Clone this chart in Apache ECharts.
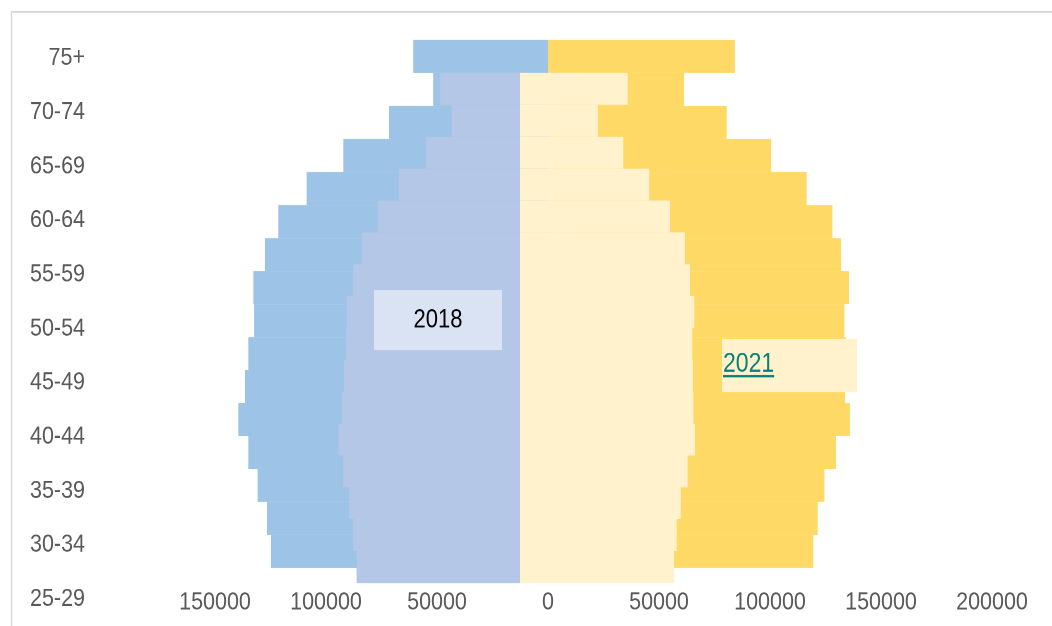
<!DOCTYPE html>
<html>
<head>
<meta charset="utf-8">
<script src="https://cdn.jsdelivr.net/npm/echarts@6/dist/echarts.min.js"></script>
<style>
  html, body { margin: 0; padding: 0; background: #ffffff; overflow: hidden; }
  #frame { width: 1052px; height: 626px; overflow: hidden; background: #ffffff; }
  /* the chart is drawn on a shorter canvas and stretched vertically,
     which gives the tall, narrow lettering of the original */
  #chart { width: 1052px; transform-origin: 0 0; }
</style>
</head>
<body>
<div id="frame"><div id="chart"></div></div>
<script>
// Age-group labels down the left edge, oldest group on top
const ageGroups = ['75+', '70-74', '65-69', '60-64', '55-59', '50-54', '45-49', '40-44', '35-39', '30-34', '25-29'];

// Bar rows, top to bottom
const barRows = ['1', '2', '3', '4', '5', '6', '7', '8', '9', '10', '11', '12', '13', '14', '15', '16'];

// Wide back layer (left: blue, right: gold)
const outerLeft  = [60700, 51700, 71600, 92200, 108700, 121500, 127500, 132700, 132400, 135000, 136500, 139500, 135000, 130800, 126600, 124800];
const outerRight = [84200, 61300, 80500, 100500, 116500, 128100, 132000, 135600, 133500, 134200, 133800, 136000, 129700, 124500, 121500, 119500];

// Narrow front layer (left: lavender, right: cream)
const innerLeft  = [36000, 30800, 42300, 54500, 64100, 71300, 75100, 78100, 78400, 79300, 80300, 81800, 79600, 76900, 75100, 73600];
const innerRight = [48500, 35100, 46500, 58200, 67600, 74300, 76600, 78500, 77600, 77900, 78100, 78800, 75500, 72400, 70600, 69400];

// Population axis range and tick step
const popMin = -150000;
const popMax = 200000;
const popStep = 50000;

// Series name tags
const tagLeft = '2018';
const tagRight = '2021';

const STRETCH = 1.18;           // vertical stretch of the whole drawing
const PAGE_H = 626;
const py = y => y / STRETCH;    // page y -> canvas y

const FONT = '"Liberation Sans", Arial, sans-serif';
const GREY = '#595959';

const holder = document.getElementById('chart');
holder.style.height = (PAGE_H / STRETCH) + 'px';
holder.style.transform = 'scaleY(' + STRETCH + ')';

const chart = echarts.init(holder, null, { renderer: 'canvas', devicePixelRatio: 2 });

function hiddenValueAxis(gridIndex) {
  return {
    type: 'value', gridIndex, min: popMin, max: popMax, interval: popStep,
    show: false, splitLine: { show: false }
  };
}
function hiddenRowAxis(gridIndex) {
  return {
    type: 'category', gridIndex, data: barRows, inverse: true, show: false,
    axisLine: { show: false }, axisTick: { show: false }
  };
}
function barSeries(name, values, axisIndex, color, z) {
  return {
    type: 'bar', name, data: values,
    xAxisIndex: axisIndex, yAxisIndex: axisIndex,
    barWidth: '100%', barGap: '-100%',
    // a same-colour outline closes the hairline seams between touching rows
    itemStyle: { color, borderColor: color, borderWidth: 1 },
    z, silent: true
  };
}

// width of the underlined tag text
const measureCtx = document.createElement('canvas').getContext('2d');
measureCtx.font = '23px ' + FONT;
const tagRightWidth = measureCtx.measureText(tagRight).width;

const option = {
  backgroundColor: '#ffffff',
  animation: false,
  grid: [
    // back layer, zero at x = 548
    { left: 215, right: 60, top: py(40), height: py(528), containLabel: false, outerBoundsMode: 'none' },
    // front layer, zero at x = 520
    { left: 187, right: 88, top: py(73), height: py(510), containLabel: false, outerBoundsMode: 'none' },
    // age-group label column
    { left: 95, right: 60, top: py(58), height: py(541), containLabel: false, outerBoundsMode: 'none' }
  ],
  xAxis: [
    {
      type: 'value', gridIndex: 0, min: popMin, max: popMax, interval: popStep,
      axisLine: { show: false }, axisTick: { show: false }, splitLine: { show: false },
      axisLabel: {
        margin: 18, color: GREY, fontSize: 21.5, fontFamily: FONT,
        formatter: v => String(Math.abs(v))
      }
    },
    hiddenValueAxis(1),
    { type: 'value', gridIndex: 2, min: 0, max: 1, show: false, splitLine: { show: false } }
  ],
  yAxis: [
    hiddenRowAxis(0),
    hiddenRowAxis(1),
    {
      type: 'category', gridIndex: 2, data: ageGroups, inverse: true, boundaryGap: false,
      axisLine: { show: false }, axisTick: { show: false }, splitLine: { show: false },
      axisLabel: { margin: 10, color: GREY, fontSize: 21.5, fontFamily: FONT, interval: 0 }
    }
  ],
  series: [
    barSeries('outer-left', outerLeft.map(v => -v), 0, '#9DC3E6', 2),
    barSeries('outer-right', outerRight, 0, '#FFD966', 2),
    barSeries('inner-left', innerLeft.map(v => -v), 1, '#B4C7E7', 3),
    barSeries('inner-right', innerRight, 1, '#FFF2CC', 3)
  ],
  graphic: [
    // chart frame
    {
      type: 'rect', left: 9, top: py(9), z: 0, silent: true,
      shape: { x: 0, y: 0, width: 1100, height: 700 },
      style: { fill: null, stroke: '#D9D9D9', lineWidth: 1.5 }
    },
    // left tag
    {
      type: 'rect', left: 374, top: py(290), z: 20, silent: true,
      shape: { x: 0, y: 0, width: 128, height: py(60) }, style: { fill: '#DAE3F3' }
    },
    {
      type: 'text', x: 438, y: py(320.5), z: 21, silent: true,
      style: { text: tagLeft, font: '22px ' + FONT, fill: '#000000', align: 'center', verticalAlign: 'middle' }
    },
    // right tag
    {
      type: 'rect', left: 722, top: py(339), z: 20, silent: true,
      shape: { x: 0, y: 0, width: 135, height: py(53) }, style: { fill: '#FFF2CC' }
    },
    {
      type: 'text', x: 723, y: py(364.5), z: 21, silent: true,
      style: { text: tagRight, font: '23px ' + FONT, fill: '#0B8078', align: 'left', verticalAlign: 'middle' }
    },
    {
      type: 'line', z: 21, silent: true,
      shape: { x1: 723, y1: py(376.2), x2: 723 + tagRightWidth, y2: py(376.2) },
      style: { stroke: '#0B8078', lineWidth: 1.8 }
    }
  ]
};

chart.setOption(option);
</script>
</body>
</html>
